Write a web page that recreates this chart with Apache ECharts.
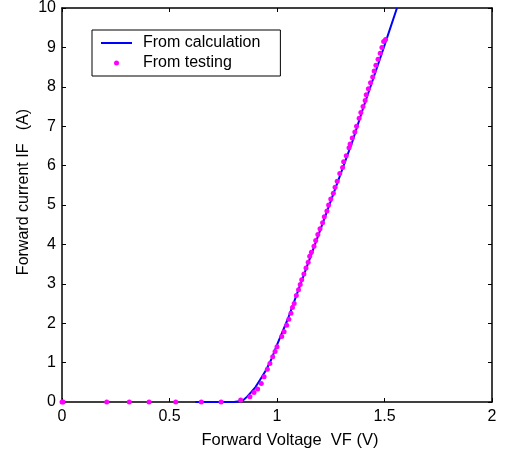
<!DOCTYPE html>
<html>
<head>
<meta charset="utf-8">
<script src="https://cdn.jsdelivr.net/npm/echarts@6/dist/echarts.min.js"></script>
<style>
  html, body { margin: 0; padding: 0; background: #fff; }
  #chart { width: 510px; height: 457px; }
</style>
</head>
<body>
<div id="chart"></div>
<script>
// calculated curve: forward voltage (V) / forward current (A)
const calcV = [0.62, 0.70, 0.80, 0.84, 0.86, 0.88, 0.90, 0.92, 0.95, 0.975, 1.0, 1.05, 1.10, 1.15, 1.20, 1.25, 1.30, 1.35, 1.40, 1.45, 1.50, 1.558];
const calcI = [0, 0, 0, 0.03, 0.13, 0.25, 0.38, 0.55, 0.82, 1.1, 1.45, 2.1, 2.85, 3.6, 4.35, 5.1, 5.85, 6.6, 7.45, 8.25, 9.05, 10];

// measured points
const testV = [0, 0.005, 0.208, 0.313, 0.405, 0.529, 0.648, 0.74, 0.831, 0.874, 0.893, 0.91, 0.927, 0.94, 0.955, 0.967, 0.98, 0.991, 1.0, 1.022, 1.033,
  1.045, 1.055, 1.065, 1.072, 1.08, 1.09, 1.10, 1.108, 1.115, 1.125, 1.135, 1.145, 1.152, 1.16, 1.172, 1.18, 1.19, 1.2, 1.212, 1.22,
  1.232, 1.24, 1.25, 1.262, 1.27, 1.28, 1.292, 1.305, 1.31, 1.322, 1.335, 1.34, 1.35, 1.362, 1.37, 1.382, 1.39, 1.4, 1.41, 1.415,
  1.425, 1.435, 1.445, 1.452, 1.46, 1.47, 1.48, 1.488, 1.496, 1.505];
const testI = [0, 0, 0, 0, 0, 0, 0, 0, 0.05, 0.135, 0.24, 0.33, 0.47, 0.64, 0.83, 0.98, 1.15, 1.28, 1.40, 1.66, 1.78,
  1.95, 2.1, 2.25, 2.4, 2.5, 2.7, 2.85, 2.98, 3.1, 3.25, 3.4, 3.55, 3.7, 3.8, 3.95, 4.1, 4.25, 4.4, 4.55, 4.7,
  4.85, 5.0, 5.15, 5.3, 5.45, 5.6, 5.8, 5.95, 6.1, 6.25, 6.45, 6.55, 6.7, 6.85, 7.0, 7.2, 7.35, 7.5, 7.65, 7.8,
  7.95, 8.1, 8.25, 8.4, 8.55, 8.7, 8.85, 9.0, 9.15, 9.2];

const xTicks = [0, 0.5, 1, 1.5, 2];
const yMax = 10;

const font = 'Liberation Sans, Arial, sans-serif';
const chart = echarts.init(document.getElementById('chart'));

const inTick = { show: true, inside: true, length: 4, lineStyle: { color: '#000', width: 1 } };
const axisLine = { show: true, onZero: false, lineStyle: { color: '#000', width: 1.5 } };

chart.setOption({
  animation: false,
  backgroundColor: '#fff',
  grid: { left: 62, right: 18, top: 8, bottom: 55 },
  legend: {
    left: 92, top: 30,
    orient: 'vertical',
    borderColor: '#000', borderWidth: 1,
    backgroundColor: '#fff',
    padding: [5, 20, 5, 9],
    itemGap: 4,
    itemWidth: 31, itemHeight: 5,
    textStyle: { fontFamily: font, fontSize: 16, color: '#000', padding: [0, 0, 0, 6] },
    data: [
      { name: 'From calculation', icon: 'path://M0,0H31V2H0Z' },
      { name: 'From testing', icon: 'circle' }
    ]
  },
  graphic: [
    { type: 'text', x: 290, y: 432,
      style: { text: 'Forward Voltage  VF (V)', font: '16.5px ' + font, fill: '#000',
        align: 'center', verticalAlign: 'top' } },
    { type: 'text', x: 16, y: 192, rotation: Math.PI / 2,
      style: { text: 'Forward current IF   (A)', font: '16px ' + font, fill: '#000',
        align: 'center', verticalAlign: 'top' } }
  ],
  xAxis: [
    {
      type: 'value', min: 0, max: 2, interval: 0.5,
      axisLine: axisLine, axisTick: inTick, splitLine: { show: false },
      axisLabel: { fontFamily: font, fontSize: 16, color: '#000', margin: 7,
        formatter: v => xTicks.includes(v) ? String(v) : '' }
    },
    {
      type: 'value', position: 'top', min: 0, max: 2, interval: 0.5,
      axisLine: axisLine, axisTick: inTick, axisLabel: { show: false }, splitLine: { show: false }
    }
  ],
  yAxis: [
    {
      type: 'value', min: 0, max: yMax, interval: 1,
      axisLine: axisLine, axisTick: inTick, splitLine: { show: false },
      axisLabel: { fontFamily: font, fontSize: 16, color: '#000', margin: 6 }
    },
    {
      type: 'value', position: 'right', min: 0, max: yMax, interval: 1,
      axisLine: axisLine, axisTick: inTick, axisLabel: { show: false }, splitLine: { show: false }
    }
  ],
  series: [
    {
      name: 'From calculation', type: 'line', symbol: 'none', clip: false,
      data: calcV.map((v, i) => [v, calcI[i]]),
      lineStyle: { color: '#0000ff', width: 2 },
      itemStyle: { color: '#0000ff' },
      z: 5
    },
    {
      name: 'From testing', type: 'scatter', symbol: 'circle', symbolSize: 5,
      data: testV.map((v, i) => [v, testI[i]]),
      itemStyle: { color: '#ff00ff', opacity: 1 },
      z: 6
    }
  ]
});
</script>
</body>
</html>
